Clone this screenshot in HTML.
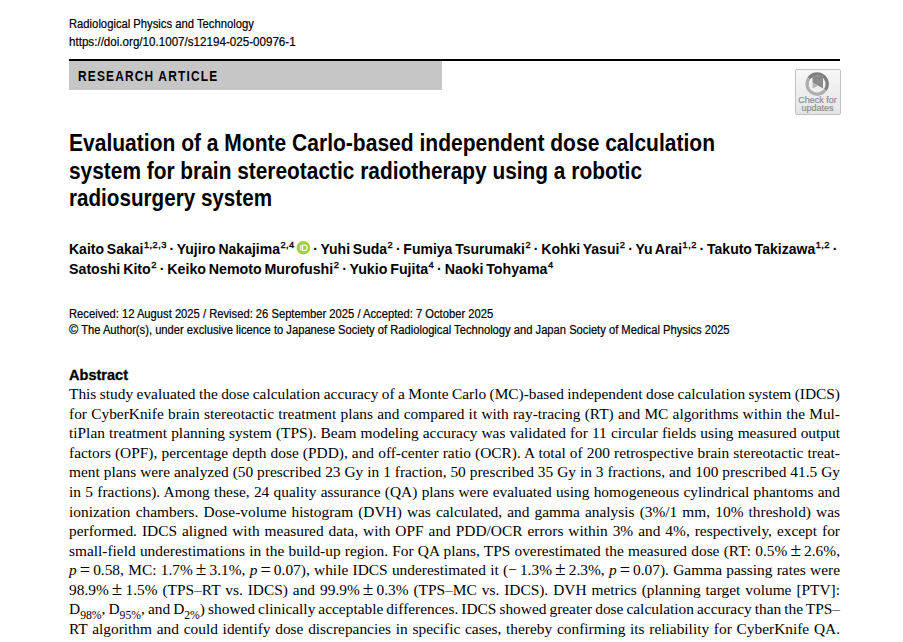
<!DOCTYPE html>
<html><head><meta charset="utf-8"><style>
html,body{margin:0;padding:0;background:#fff;}
body{width:903px;height:642px;position:relative;overflow:hidden;color:#000;}
.l{position:absolute;white-space:nowrap;transform-origin:0 0;}
.s{font-family:"Liberation Sans", sans-serif;}
.sf{font-family:"Liberation Serif", serif;}
sup{font-size:66%;letter-spacing:0.5px;font-weight:400;-webkit-text-stroke:0.4px #000;vertical-align:0;position:relative;top:-0.6em;line-height:0;margin-left:0.5px;}
.m{font-size:125%;line-height:0;}
.eq{font-size:118%;position:relative;top:1px;}
sub{font-size:76%;vertical-align:0;position:relative;top:0.36em;line-height:0;}
.orcid{display:inline-block;vertical-align:-1px;margin-left:2px;}
.d{font-weight:700;}
.bl{position:absolute;left:69px;width:771px;white-space:nowrap;text-align:justify;text-align-last:justify;font-family:"Liberation Serif", serif;color:#000;word-spacing:-1.6px;}
</style></head><body>

<div style="position:absolute;left:69px;top:59px;width:771px;height:2px;background:#000"></div>
<div style="position:absolute;left:69px;top:60.5px;width:373px;height:29.2px;background:#c6c6c6"></div>
<div style="position:absolute;left:795px;top:69px;width:46px;height:46px;box-sizing:border-box;border:1px solid #c2c2c2;border-radius:2px;background:linear-gradient(#f7f7f7,#e4e4e4);"></div>
<svg width="45" height="45" viewBox="795 69 45 45" style="position:absolute;left:795px;top:69px">
<path d="M808.9 78.2 A10.1 10.1 0 1 0 825.4 89.9" fill="none" stroke="#adadad" stroke-width="3.2"/>
<path d="M808.9 78.2 A10.1 10.1 0 1 1 825.4 89.9" fill="none" stroke="#7e7e7e" stroke-width="3.2"/>
<path d="M812.5 75.5H823V88.6L812.5 82.4z" fill="#8a8a8a"/>
<path d="M812.5 82.4L818.3 85.8L812.5 88.6z" fill="#b6b6b6"/>
</svg>
<div style="position:absolute;left:795px;top:95.5px;width:45px;text-align:center;font-family:'Liberation Sans',sans-serif;font-size:9px;line-height:8px;color:#8a8a8a;letter-spacing:0px;-webkit-text-stroke:0.15px #8a8a8a">Check for<br>updates</div>
<div id="h1" class="l s" style="left:69px;top:18.27px;font-size:12.2px;line-height:12.2px;font-weight:400;transform:scaleX(0.9225);-webkit-text-stroke:0.2px #000;">Radiological Physics and Technology</div>
<div id="h2" class="l s" style="left:69px;top:35.67px;font-size:12.2px;line-height:12.2px;font-weight:400;transform:scaleX(0.9529);-webkit-text-stroke:0.2px #000;">https://doi.org/10.1007/s12194-025-00976-1</div>
<div id="ra" class="l s" style="left:78.3px;top:69.15px;font-size:14.0px;line-height:14.0px;font-weight:700;transform:scaleX(0.8502);letter-spacing:1.4px;color:#000;">RESEARCH ARTICLE</div>
<div id="t1" class="l s" style="left:69px;top:131.83px;font-size:23.0px;line-height:23.0px;font-weight:700;transform:scaleX(0.9141);">Evaluation of a Monte Carlo-based independent dose calculation</div>
<div id="t2" class="l s" style="left:69px;top:159.53px;font-size:23.0px;line-height:23.0px;font-weight:700;transform:scaleX(0.9075);">system for brain stereotactic radiotherapy using a robotic</div>
<div id="t3" class="l s" style="left:69px;top:187.23px;font-size:23.0px;line-height:23.0px;font-weight:700;transform:scaleX(0.8972);">radiosurgery system</div>
<div id="a1" class="l s" style="left:69px;top:240.92px;font-size:15.1px;line-height:15.1px;font-weight:700;transform:scaleX(0.9282);word-spacing:-1.2px;">Kaito Sakai<sup>1,2,3</sup> <span class="d">·</span> Yujiro Nakajima<sup>2,4</sup><svg class="orcid" width="15" height="13.5" viewBox="0 0 13 13" preserveAspectRatio="none"><circle cx="6.5" cy="6.5" r="6.5" fill="#a6ce39"/><rect x="3.6" y="3.9" width="1.1" height="5.3" fill="#fff"/><path d="M5.8 3.9h1.7c1.7 0 2.6 1.1 2.6 2.65s-.9 2.65-2.6 2.65H5.8z" fill="none" stroke="#fff" stroke-width="1"/></svg> <span class="d">·</span> Yuhi Suda<sup>2</sup> <span class="d">·</span> Fumiya Tsurumaki<sup>2</sup> <span class="d">·</span> Kohki Yasui<sup>2</sup> <span class="d">·</span> Yu Arai<sup>1,2</sup> <span class="d">·</span> Takuto Takizawa<sup>1,2</sup> <span class="d">·</span></div>
<div id="a2" class="l s" style="left:69px;top:260.82px;font-size:15.1px;line-height:15.1px;font-weight:700;transform:scaleX(0.9414);word-spacing:-1.2px;">Satoshi Kito<sup>2</sup> <span class="d">·</span> Keiko Nemoto Murofushi<sup>2</sup> <span class="d">·</span> Yukio Fujita<sup>4</sup> <span class="d">·</span> Naoki Tohyama<sup>4</sup></div>
<div id="r1" class="l s" style="left:69px;top:307.64px;font-size:12.0px;line-height:12.0px;font-weight:400;transform:scaleX(0.9337);-webkit-text-stroke:0.2px #000;">Received: 12 August 2025 / Revised: 26 September 2025 / Accepted: 7 October 2025</div>
<div id="r2" class="l s" style="left:69px;top:323.94px;font-size:12.0px;line-height:12.0px;font-weight:400;transform:scaleX(0.9323);-webkit-text-stroke:0.2px #000;"><span style="font-size:112%;line-height:0">©</span> The Author(s), under exclusive licence to Japanese Society of Radiological Technology and Japan Society of Medical Physics 2025</div>
<div id="ab" class="l s" style="left:69px;top:368.37px;font-size:14.8px;line-height:14.8px;font-weight:700;transform:scaleX(0.9828);-webkit-text-stroke:0.3px #000;">Abstract</div>
<div id="b0" class="bl" style="top:386.10px;font-size:15.4px;line-height:15.4px">This study evaluated the dose calculation accuracy of a Monte Carlo (MC)-based independent dose calculation system (IDCS)</div>
<div id="b1" class="bl" style="top:405.68px;font-size:15.4px;line-height:15.4px">for CyberKnife brain stereotactic treatment plans and compared it with ray-tracing (RT) and MC algorithms within the Mul-</div>
<div id="b2" class="bl" style="top:425.25px;font-size:15.4px;line-height:15.4px">tiPlan treatment planning system (TPS). Beam modeling accuracy was validated for 11 circular fields using measured output</div>
<div id="b3" class="bl" style="top:444.83px;font-size:15.4px;line-height:15.4px">factors (OPF), percentage depth dose (PDD), and off-center ratio (OCR). A total of 200 retrospective brain stereotactic treat-</div>
<div id="b4" class="bl" style="top:464.40px;font-size:15.4px;line-height:15.4px">ment plans were analyzed (50 prescribed 23 Gy in 1 fraction, 50 prescribed 35 Gy in 3 fractions, and 100 prescribed 41.5 Gy</div>
<div id="b5" class="bl" style="top:483.98px;font-size:15.4px;line-height:15.4px">in 5 fractions). Among these, 24 quality assurance (QA) plans were evaluated using homogeneous cylindrical phantoms and</div>
<div id="b6" class="bl" style="top:503.55px;font-size:15.4px;line-height:15.4px">ionization chambers. Dose-volume histogram (DVH) was calculated, and gamma analysis (3%/1 mm, 10% threshold) was</div>
<div id="b7" class="bl" style="top:523.13px;font-size:15.4px;line-height:15.4px">performed. IDCS aligned with measured data, with OPF and PDD/OCR errors within 3% and 4%, respectively, except for</div>
<div id="b8" class="bl" style="top:542.70px;font-size:15.4px;line-height:15.4px">small-field underestimations in the build-up region. For QA plans, TPS overestimated the measured dose (RT: 0.5% <span class="m">±</span> 2.6%,</div>
<div id="b9" class="bl" style="top:562.28px;font-size:15.4px;line-height:15.4px"><i>p</i> <span class="m eq">=</span> 0.58, MC: 1.7% <span class="m">±</span> 3.1%, <i>p</i> <span class="m eq">=</span> 0.07), while IDCS underestimated it (− 1.3% <span class="m">±</span> 2.3%, <i>p</i> <span class="m eq">=</span> 0.07). Gamma passing rates were</div>
<div id="b10" class="bl" style="top:581.85px;font-size:15.4px;line-height:15.4px">98.9% <span class="m">±</span> 1.5% (TPS–RT vs. IDCS) and 99.9% <span class="m">±</span> 0.3% (TPS–MC vs. IDCS). DVH metrics (planning target volume [PTV]:</div>
<div id="b11" class="bl" style="top:601.43px;font-size:15.4px;line-height:15.4px">D<sub>98%</sub>, D<sub>95%</sub>, and D<sub>2%</sub>) showed clinically acceptable differences. IDCS showed greater dose calculation accuracy than the TPS–</div>
<div id="b12" class="bl" style="top:621.00px;font-size:15.4px;line-height:15.4px">RT algorithm and could identify dose discrepancies in specific cases, thereby confirming its reliability for CyberKnife QA.</div>
</body></html>
